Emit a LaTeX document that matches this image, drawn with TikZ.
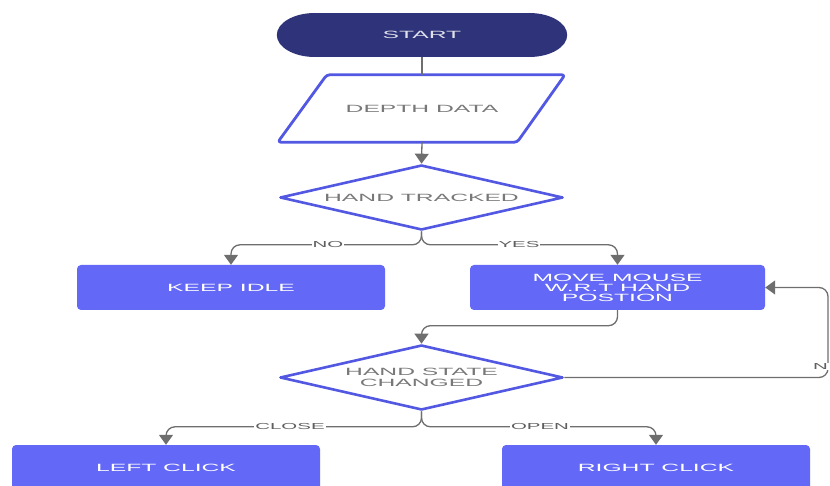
\documentclass[tikz,border=0pt]{standalone}
\usepackage{fontspec}
\newfontfamily\wide[FakeStretch=2.35]{Liberation Sans}
\usetikzlibrary{shapes.geometric,arrows.meta,backgrounds,calc}
\definecolor{startfill}{RGB}{46,51,122}
\definecolor{boxblue}{RGB}{99,104,246}
\definecolor{shapeblue}{RGB}{82,88,226}
\definecolor{conngray}{RGB}{110,110,110}
\definecolor{dtextgray}{RGB}{120,120,120}
\definecolor{lblgray}{RGB}{95,95,95}
\tikzset{
  boxnode/.style={rectangle, rounded corners=4pt, fill=boxblue, text=white,
    font=\wide\fontsize{10.5}{10}\selectfont, align=center, inner sep=0pt,
    minimum width=308pt, minimum height=45pt},
  dianode/.style={diamond, draw=shapeblue, line width=2.6pt, line join=round,
    fill=white, inner sep=0pt, minimum width=283pt, minimum height=65pt},
  dtext/.style={text=dtextgray, font=\wide\fontsize{10.5}{10.6}\selectfont, align=center, inner sep=0pt},
  lbl/.style={fill=white, text=lblgray, font=\wide\fontsize{8.7}{9}\selectfont, inner sep=1pt},
  conn/.style={draw=conngray, line width=1.3pt, rounded corners=9pt},
  arr/.style={conn, -{Triangle[width=14pt,length=10pt]}},
  para/.style={draw=shapeblue, line width=2.8pt, line join=round, rounded corners=3pt}
}
\begin{document}
\begin{tikzpicture}[x=1pt,y=-1pt]
\useasboundingbox (0,0) rectangle (830,486);

% START
\node[rectangle, inner sep=0pt, minimum width=290pt, minimum height=44pt,
      text={rgb,255:red,225;green,225;blue,235}, font=\wide\fontsize{10.5}{10}\selectfont]
      (start) at (422,35) {START};
\begin{scope}[on background layer]
  \fill[startfill] ([xshift=38pt]start.west) ellipse [x radius=38pt, y radius=22pt];
  \fill[startfill] ([xshift=-38pt]start.east) ellipse [x radius=38pt, y radius=22pt];
  \fill[startfill] ([xshift=38pt]start.south west) rectangle ([xshift=-38pt]start.north east);
\end{scope}

% DEPTH DATA parallelogram
\node[rectangle, inner sep=0pt, minimum width=288pt, minimum height=67pt,
      text=dtextgray, font=\wide\fontsize{10.5}{10}\selectfont] (depth) at (422,108.5) {DEPTH DATA};
\draw[para] ([xshift=49pt]depth.north west) -- ([xshift=143pt]depth.north)
  -- ([xshift=-49pt]depth.south east) -- (depth.south west) -- cycle;

% Diamonds
\node[dianode, label={[dtext]center:HAND TRACKED}] (ht) at (421.5,197.5) {};
\node[dianode, label={[dtext]center:HAND STATE\\CHANGED}] (hsc) at (421.5,377.5) {};

% Boxes
\node[boxnode] (idle) at (231,287.5) {KEEP IDLE};
\node[boxnode, minimum width=295pt] (move) at (617.5,287.5) {MOVE MOUSE\\W.R.T HAND\\POSTION};
\node[boxnode, minimum height=46pt] (left) at (166,468) {LEFT CLICK};
\node[boxnode, minimum height=46pt] (right) at (656,468) {RIGHT CLICK};

% Connectors
\draw[conn] (start.south) -- (depth.north);
\draw[arr] (depth.south) -- (ht.north);
\draw[arr] (ht.south) |- ($(idle.north)+(0,-20)$) -- (idle.north);
\draw[arr] (ht.south) |- ($(move.north)+(0,-20)$) -- (move.north);
\draw[arr] (move.south) |- ($(hsc.north)+(0,-18)$) -- (hsc.north);
\coordinate (rt) at (828,330);
\draw[arr] (hsc.east) -| (rt) |- (move.east);
\draw[arr] (hsc.south) |- ($(left.north)+(0,-18)$) -- (left.north);
\draw[arr] (hsc.south) |- ($(right.north)+(0,-18)$) -- (right.north);

% Labels
\node[lbl] (lno) at (328,245) {NO};
\node[lbl] (lyes) at (519,245) {YES};
\node[lbl, anchor=east, inner xsep=1pt] (lnoloop) at (829,366.5) {N};
\node[lbl] (lclose) at (290,427) {CLOSE};
\node[lbl] (lopen) at (540,427) {OPEN};
\end{tikzpicture}
\end{document}
